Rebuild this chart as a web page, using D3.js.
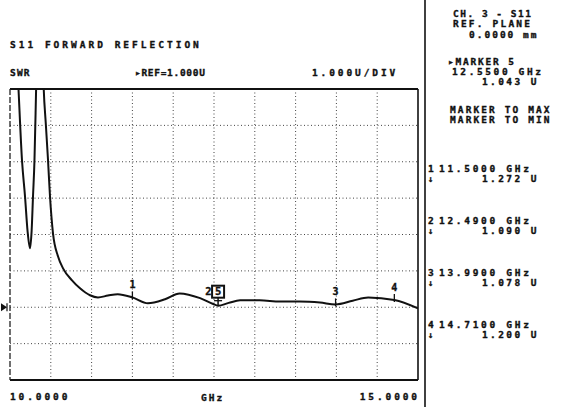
<!DOCTYPE html>
<html>
<head>
<meta charset="utf-8">
<script src="https://cdn.jsdelivr.net/npm/d3@7"></script>
<style>
  body { margin: 0; background: #fff; }
  text { font-family: "DejaVu Sans Mono", monospace; font-weight: bold; fill: #111;
         stroke: #111; stroke-width: 0.35px; }
</style>
</head>
<body>
<svg id="chart" width="565" height="407"></svg>
<script>
// trace (GHz, SWR units); values above 7 are clipped off-screen
const freqGHz = [10.00, 10.06, 10.10, 10.147, 10.184, 10.215, 10.245, 10.265, 10.282, 10.30, 10.32, 10.34,
  10.39, 10.41, 10.44, 10.466, 10.49, 10.527, 10.588, 10.65, 10.76, 10.858, 10.98, 11.078, 11.20, 11.32,
  11.50, 11.69, 11.90, 12.08, 12.33, 12.49, 12.55, 12.68, 12.82, 13.06, 13.31, 13.55, 13.80, 13.99,
  14.20, 14.39, 14.71, 15.00];
const swr = [9, 9, 7.2, 5.04, 4.05, 3.1, 2.62, 3.1, 4.05, 5.04, 7.0, 9,
  9, 7.2, 6.0, 5.04, 4.05, 3.03, 2.40, 2.07, 1.74, 1.52, 1.33, 1.27, 1.32, 1.36,
  1.272, 1.11, 1.22, 1.38, 1.25, 1.09, 1.043, 1.12, 1.19, 1.19, 1.16, 1.16, 1.13, 1.078,
  1.18, 1.27, 1.20, 0.97];

const markerIds = ["1", "2", "3", "4"];
const markerFreqs = [11.5, 12.49, 13.99, 14.71];
const markerVals = [1.272, 1.090, 1.078, 1.200];
const activeMarker = {id: "5", freq: 12.55, val: 1.043};
const refValue = 1.0;

var svg = d3.select("#chart"),
  plot = {left: 10, right: 418, top: 89, bottom: 380};

var x = d3.scaleLinear().domain([10, 15]).range([plot.left, plot.right]);
var y = d3.scaleLinear().domain([-1, 7]).range([plot.bottom, plot.top]);

/* dotted graticule */
var grid = svg.append("g").attr("stroke", "#444").attr("stroke-width", 1)
  .attr("stroke-dasharray", "1,2.5");
grid.selectAll("line.v").data(d3.range(10.5, 15, 0.5)).enter().append("line")
  .attr("x1", d => x(d)).attr("x2", d => x(d))
  .attr("y1", plot.top).attr("y2", plot.bottom);
grid.selectAll("line.h").data(d3.range(0, 7, 1)).enter().append("line")
  .attr("y1", d => y(d)).attr("y2", d => y(d))
  .attr("x1", plot.left).attr("x2", plot.right);

/* frame */
svg.append("line").attr("x1", plot.left).attr("x2", plot.right)
  .attr("y1", plot.top).attr("y2", plot.top).attr("stroke", "#111").attr("stroke-width", 2);
svg.append("line").attr("x1", plot.left).attr("x2", plot.right)
  .attr("y1", plot.bottom).attr("y2", plot.bottom).attr("stroke", "#111").attr("stroke-width", 2);
svg.append("line").attr("x1", plot.left).attr("x2", plot.left)
  .attr("y1", plot.top).attr("y2", plot.bottom).attr("stroke", "#222").attr("stroke-width", 1.3)
  .attr("stroke-dasharray", "6,2");
svg.append("line").attr("x1", plot.right).attr("x2", plot.right)
  .attr("y1", plot.top).attr("y2", plot.bottom).attr("stroke", "#111").attr("stroke-width", 1.6);

// panel separator
svg.append("line").attr("x1", 425).attr("x2", 425).attr("y1", 0).attr("y2", 407)
  .attr("stroke", "#111").attr("stroke-width", 1.6);

/* trace */
svg.append("clipPath").attr("id", "clip").append("rect")
  .attr("x", plot.left).attr("y", plot.top - 1)
  .attr("width", plot.right - plot.left).attr("height", plot.bottom - plot.top + 1);

var line = d3.line().x(d => x(d[0])).y(d => y(d[1])).curve(d3.curveMonotoneX);
svg.append("path")
  .datum(freqGHz.map((f, i) => [f, swr[i]]))
  .attr("clip-path", "url(#clip)")
  .attr("fill", "none").attr("stroke", "#111").attr("stroke-width", 2)
  .attr("stroke-linejoin", "round")
  .attr("d", line);

// reference level arrow on the left edge
svg.append("path")
  .attr("d", `M1,${y(refValue) - 4}L7,${y(refValue)}L1,${y(refValue) + 4}Z`)
  .attr("fill", "#111");
svg.append("line").attr("x1", 7).attr("x2", 7)
  .attr("y1", y(refValue) - 4).attr("y2", y(refValue) + 4)
  .attr("stroke", "#111").attr("stroke-width", 1.2);

/* markers on the trace */
markerIds.forEach((id, i) => {
  var mx = x(markerFreqs[i]), my = y(markerVals[i]);
  if (id === "2") {
    svg.append("text").attr("x", mx - 8).attr("y", my - 9)
      .attr("font-size", 10.5).text(id);
    return;
  }
  svg.append("line").attr("x1", mx).attr("x2", mx).attr("y1", my - 6).attr("y2", my + 2)
    .attr("stroke", "#111").attr("stroke-width", 1.3);
  svg.append("text").attr("x", mx).attr("y", my - 9)
    .attr("text-anchor", "middle").attr("font-size", 10).text(id);
});

var ax = x(activeMarker.freq), ay = y(activeMarker.val);
svg.append("rect").attr("x", ax - 6).attr("y", ay - 20).attr("width", 12).attr("height", 12)
  .attr("fill", "#fff").attr("stroke", "#111").attr("stroke-width", 2);
svg.append("text").attr("x", ax).attr("y", ay - 10.5).attr("text-anchor", "middle")
  .attr("font-size", 10.5).text(activeMarker.id);
svg.append("line").attr("x1", ax).attr("x2", ax).attr("y1", ay - 8).attr("y2", ay)
  .attr("stroke", "#111").attr("stroke-width", 1.5);
svg.append("line").attr("x1", ax - 4).attr("x2", ax + 4).attr("y1", ay - 5).attr("y2", ay - 5)
  .attr("stroke", "#111").attr("stroke-width", 1.3);

/* header and axis labels */
function label(tx, ty, str, spacing, anchor) {
  return svg.append("text").attr("x", tx).attr("y", ty)
    .attr("font-size", 9.5)
    .attr("letter-spacing", spacing)
    .attr("text-anchor", anchor || "start")
    .text(str);
}
label(10, 48, "S11 FORWARD REFLECTION", 3.0);
label(10, 76, "SWR", 1.2);
label(135, 76, "▸REF=1.000U", 0.7);
label(312, 76, "1.000U/DIV", 2.9);
label(10, 400, "10.0000", 2.9);
label(201, 401, "GHz", 2);
label(420, 400, "15.0000", 2.9, "end");

/* right-hand annotation panel */
label(453, 17, "CH. 3 - S11", 1.5);
label(453, 27, "REF. PLANE", 2.2);
label(469, 38, "0.0000 mm", 2.0);
label(448, 65, "▸MARKER 5", 1.8);
label(452, 75, activeMarker.freq.toFixed(4) + " GHz", 2.6);
label(482, 85, activeMarker.val.toFixed(3) + " U", 2.4);
label(450, 113, "MARKER TO MAX", 2.1);
label(450, 123, "MARKER TO MIN", 2.1);

markerIds.forEach((id, i) => {
  var by = 172 + i * 52;
  label(428, by, id, 0);
  label(439, by, markerFreqs[i].toFixed(4) + " GHz", 2.7);
  svg.append("text").attr("x", 428).attr("y", by + 10).attr("font-size", 9).text("↓");
  label(482, by + 10, markerVals[i].toFixed(3) + " U", 2.4);
});
</script>
</body>
</html>
